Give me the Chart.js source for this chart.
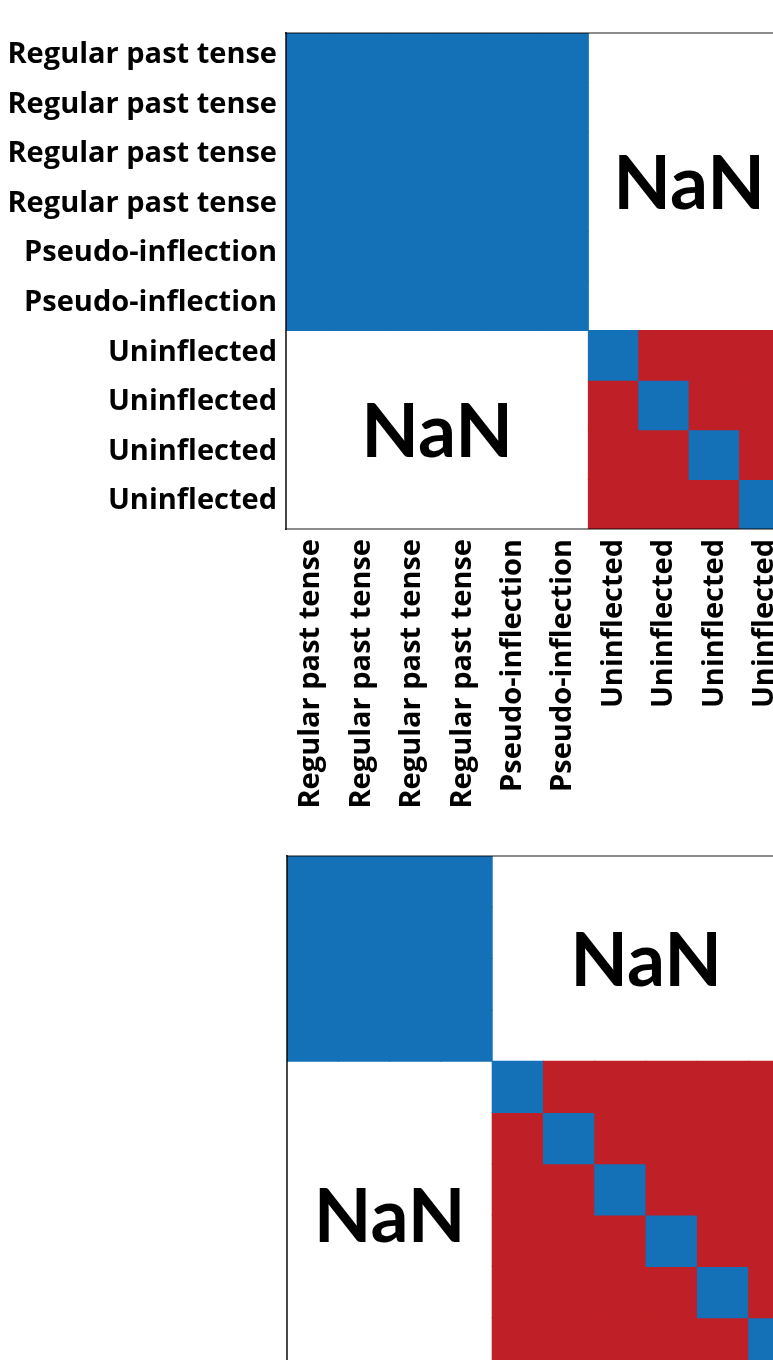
<!DOCTYPE html>
<html>
<head>
<meta charset="utf-8">
<script src="https://cdn.jsdelivr.net/npm/chart.js@4"></script>
<style>
  html, body { margin: 0; padding: 0; background: #fff; width: 773px; height: 1360px; overflow: hidden; }
  .panel { position: absolute; left: 0; }
  #upper { top: 0; }
  #lower { top: 820px; }
</style>
</head>
<body>
<canvas id="upper" class="panel" width="810" height="850"></canvas>
<canvas id="lower" class="panel" width="820" height="560"></canvas>
<script>
// Item categories of the first matrix (rows and columns share them)
const upperLabels = [
  'Regular past tense', 'Regular past tense', 'Regular past tense', 'Regular past tense',
  'Pseudo-inflection', 'Pseudo-inflection',
  'Uninflected', 'Uninflected', 'Uninflected', 'Uninflected'
];
// Sizes of the condition groups along the diagonal
const upperGroups = [6, 4];
// Similarity values: 1 = same, 0 = different, null = NaN (not compared)
const upperValues = [
  [1, 1, 1, 1, 1, 1, null, null, null, null],
  [1, 1, 1, 1, 1, 1, null, null, null, null],
  [1, 1, 1, 1, 1, 1, null, null, null, null],
  [1, 1, 1, 1, 1, 1, null, null, null, null],
  [1, 1, 1, 1, 1, 1, null, null, null, null],
  [1, 1, 1, 1, 1, 1, null, null, null, null],
  [null, null, null, null, null, null, 1, 0, 0, 0],
  [null, null, null, null, null, null, 0, 1, 0, 0],
  [null, null, null, null, null, null, 0, 0, 1, 0],
  [null, null, null, null, null, null, 0, 0, 0, 1]
];

// Second matrix
const lowerGroups = [4, 6];
const lowerValues = [
  [1, 1, 1, 1, null, null, null, null, null, null],
  [1, 1, 1, 1, null, null, null, null, null, null],
  [1, 1, 1, 1, null, null, null, null, null, null],
  [1, 1, 1, 1, null, null, null, null, null, null],
  [null, null, null, null, 1, 0, 0, 0, 0, 0],
  [null, null, null, null, 0, 1, 0, 0, 0, 0],
  [null, null, null, null, 0, 0, 1, 0, 0, 0],
  [null, null, null, null, 0, 0, 0, 1, 0, 0],
  [null, null, null, null, 0, 0, 0, 0, 1, 0],
  [null, null, null, null, 0, 0, 0, 0, 0, 1]
];

const nanText = 'NaN';

const SAME_COLOR = '#1470b7';
const DIFF_COLOR = '#bf1f26';
const LABEL_FONT = { family: "'Open Sans', 'Noto Sans', sans-serif", weight: 'bold', size: 29 };

function cellColor(v) {
  if (v === null) return 'rgba(0,0,0,0)';
  return v >= 1 ? SAME_COLOR : DIFF_COLOR;
}

// One floating-bar dataset per matrix row: each bar spans [row, row + 1]
function rowDatasets(values) {
  return values.map((row, i) => ({
    label: 'row ' + (i + 1),
    data: row.map(v => (v === null ? null : [i, i + 1])),
    backgroundColor: row.map(cellColor),
    borderWidth: 0,
    inflateAmount: 0.5,
    grouped: false,
    barPercentage: 1,
    categoryPercentage: 1
  }));
}

// "NaN" written in the middle of every off-diagonal group block,
// plus the frame lines on the top, left and bottom of the plot area
function matrixDecor(groups) {
  return {
    id: 'matrixDecor',
    afterDatasetsDraw(chart) {
      const { ctx, chartArea: a, scales: { x, y } } = chart;
      const starts = [0];
      groups.forEach(g => starts.push(starts[starts.length - 1] + g));
      ctx.save();
      ctx.fillStyle = '#000';
      ctx.font = "bold 75px Lato, 'Open Sans', sans-serif";
      ctx.textAlign = 'center';
      ctx.textBaseline = 'alphabetic';
      for (let r = 0; r < groups.length; r++) {
        for (let c = 0; c < groups.length; c++) {
          if (r === c) continue;
          const cx = (x.getPixelForValue(starts[c]) + x.getPixelForValue(starts[c + 1] - 1)) / 2;
          const cy = y.getPixelForValue((starts[r] + starts[r + 1]) / 2);
          ctx.fillText(nanText, cx, cy + 27);
        }
      }
      ctx.lineWidth = 2;
      ctx.strokeStyle = 'rgba(0,0,0,0.45)';
      ctx.beginPath();
      ctx.moveTo(a.left - 1, a.top);
      ctx.lineTo(a.right + 1, a.top);
      ctx.moveTo(a.left - 1, a.bottom);
      ctx.lineTo(a.right + 1, a.bottom);
      ctx.stroke();
      ctx.strokeStyle = 'rgba(0,0,0,0.72)';
      ctx.beginPath();
      ctx.moveTo(a.left, a.top - 1);
      ctx.lineTo(a.left, a.bottom + 1);
      ctx.stroke();
      ctx.restore();
    }
  };
}

Chart.defaults.color = '#000';

const colIndex = n => Array.from({ length: n }, (_, i) => String(i));

// First matrix, with category labels on both axes
new Chart(document.getElementById('upper'), {
  type: 'bar',
  data: { labels: upperLabels.map((_, i) => i), datasets: rowDatasets(upperValues) },
  options: {
    responsive: false,
    animation: false,
    devicePixelRatio: 1,
    layout: { padding: { top: 33, right: 9, left: 0, bottom: 0 } },
    plugins: { legend: { display: false }, tooltip: { enabled: false } },
    scales: {
      x: {
        type: 'category',
        offset: true,
        grid: { display: false, drawTicks: false },
        border: { display: false },
        ticks: {
          autoSkip: false,
          maxRotation: 90,
          minRotation: 90,
          padding: 10,
          font: LABEL_FONT,
          callback: (v, i) => upperLabels[i]
        },
        afterFit: s => { s.height = 321; }
      },
      y: {
        type: 'linear',
        min: 0,
        max: upperLabels.length,
        reverse: true,
        grid: { display: false, drawTicks: false },
        border: { display: false },
        afterBuildTicks: s => { s.ticks = upperLabels.map((_, i) => ({ value: i + 0.5 })); },
        ticks: {
          autoSkip: false,
          padding: 9,
          labelOffset: -3,
          font: LABEL_FONT,
          callback: v => upperLabels[Math.floor(v)]
        },
        afterFit: s => { s.width = 286; }
      }
    }
  },
  plugins: [matrixDecor(upperGroups)]
});

// Second matrix, drawn without axis labels
new Chart(document.getElementById('lower'), {
  type: 'bar',
  data: { labels: colIndex(lowerValues.length), datasets: rowDatasets(lowerValues) },
  options: {
    responsive: false,
    animation: false,
    devicePixelRatio: 1,
    layout: { padding: { top: 36, right: 20, left: 287, bottom: 11 } },
    plugins: { legend: { display: false }, tooltip: { enabled: false } },
    scales: {
      x: { type: 'category', offset: true, display: false },
      y: { type: 'linear', min: 0, max: lowerValues.length, reverse: true, display: false }
    }
  },
  plugins: [matrixDecor(lowerGroups)]
});
</script>
</body>
</html>
